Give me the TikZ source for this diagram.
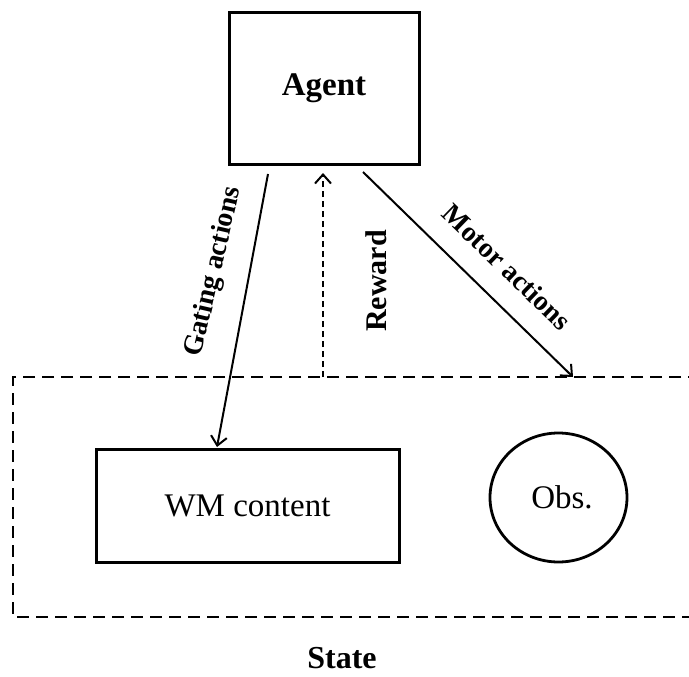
\documentclass[tikz,border=0pt]{standalone}
\usepackage{fontspec}
\setmainfont{Liberation Serif}
\usetikzlibrary{arrows.meta,shapes.geometric}
\tikzset{
  box/.style={draw, line width=3pt, inner sep=0pt},
  lbl/.style={font=\fontsize{28}{33}\selectfont\bfseries, inner sep=0pt},
  txt/.style={font=\fontsize{33}{38}\selectfont, inner sep=0pt},
  link/.style={line width=2pt, -{Straight Barb[length=9pt,width=16pt,line width=2pt]}},
}
\begin{document}
\begin{tikzpicture}[x=1pt,y=-1pt]
\useasboundingbox (0,0) rectangle (689,677);
% state region (open on the right)
\draw[line width=2pt, dash pattern=on 12pt off 7pt] (700,377) -- (13,377) -- (13,617) -- (700,617);
% agent and the state contents
\node[box, minimum width=190pt, minimum height=151pt, font=\fontsize{33}{38}\selectfont\bfseries] (agent) at (324,88.5) {Agent};
\node[box, minimum width=303pt, minimum height=113pt, txt] (wm) at (247.5,505.5) {WM content};
\node[draw, ellipse, line width=2.8pt, minimum width=137pt, minimum height=129pt, inner sep=0pt] (obs) at (558.5,497.5) {};
\node[txt] (obst) at (562,497) {Obs.};
\node[lbl, font=\fontsize{32}{36}\selectfont\bfseries] (state) at (342,658) {State};
% connector end points
\coordinate (gs) at (268,174);
\coordinate (ge) at (217,447);
\coordinate (rs) at (323,377);
\coordinate (re) at (323,173);
\coordinate (ms) at (363,172);
\coordinate (me) at (573,377);
\draw[link] (gs) -- (ge);
\draw[link, dash pattern=on 6pt off 4pt] (rs) -- (re);
\draw[link] (ms) -- (me);
% connector labels
\node[lbl, rotate=77] (gl) at (214,272) {Gating actions};
\node[lbl, rotate=90, font=\fontsize{30}{35}\selectfont\bfseries] (rl) at (376,281) {Reward};
\node[lbl, rotate=-44] (ml) at (507,267) {Motor actions};
\end{tikzpicture}
\end{document}
